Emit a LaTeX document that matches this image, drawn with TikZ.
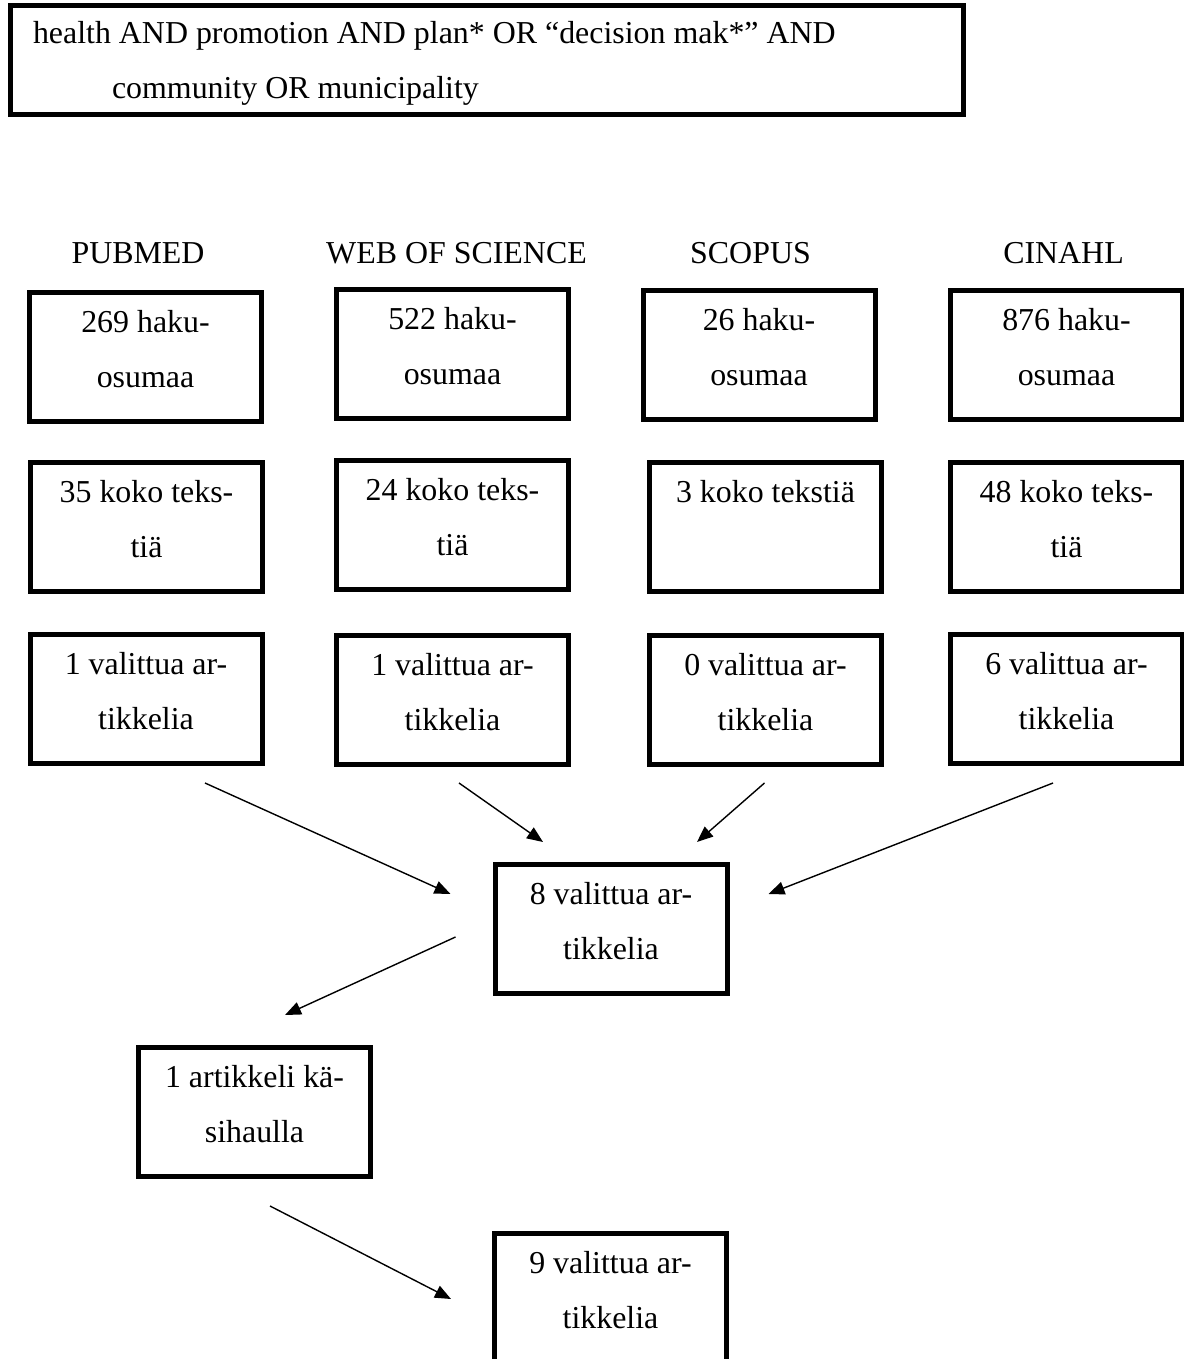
\documentclass[tikz,border=0pt]{standalone}
\usepackage{fontspec}
\setmainfont{Liberation Serif}
\usetikzlibrary{arrows.meta}

\newcommand{\boxtext}[1]{\parbox[c][93pt][t]{225pt}{\centering #1}}

\tikzset{
  countbox/.style={draw, line width=5pt, inner sep=0pt,
    minimum width=232pt, minimum height=129pt},
  dbname/.style={inner sep=0pt},
  flow/.style={-{Triangle[length=16pt,width=13pt]}, line width=1.4pt}
}

\begin{document}
\begin{tikzpicture}
    [x=1pt, y=-1pt, font=\fontsize{31.9}{55}\selectfont]
    \useasboundingbox (0,0) rectangle (1183,1359);
    % search string
    \node (query) at (487,60) [draw, line width=5pt, inner sep=0pt,
      minimum width=953pt, minimum height=109pt]
      {\parbox[c][77pt][t]{908pt}{\raggedright health AND promotion AND plan* OR “decision mak*” AND\\
       \hspace*{79pt}community OR municipality}};
    % databases
    \node (pubname) at (138,253) [dbname] {PUBMED};
    \node (wosname) at (456.5,253) [dbname] {WEB OF SCIENCE};
    \node (sconame) at (750.5,253) [dbname] {SCOPUS};
    \node (cinname) at (1063.5,253) [dbname] {CINAHL};
    % hits
    \node (pub1) at (145.5,357) [countbox] {\boxtext{269 haku-\\osumaa}};
    \node (wos1) at (452.5,353.5) [countbox] {\boxtext{522 haku-\\osumaa}};
    \node (sco1) at (759,355) [countbox] {\boxtext{26 haku-\\osumaa}};
    \node (cin1) at (1066.5,355) [countbox] {\boxtext{876 haku-\\osumaa}};
    % full texts
    \node (pub2) at (146.5,526.5) [countbox] {\boxtext{35 koko teks-\\tiä}};
    \node (wos2) at (452.5,524.5) [countbox] {\boxtext{24 koko teks-\\tiä}};
    \node (sco2) at (765.5,526.5) [countbox] {\boxtext{3 koko tekstiä}};
    \node (cin2) at (1066.5,526.5) [countbox] {\boxtext{48 koko teks-\\tiä}};
    % chosen
    \node (pub3) at (146,699) [countbox] {\boxtext{1 valittua ar-\\tikkelia}};
    \node (wos3) at (452.5,700) [countbox] {\boxtext{1 valittua ar-\\tikkelia}};
    \node (sco3) at (765.5,700) [countbox] {\boxtext{0 valittua ar-\\tikkelia}};
    \node (cin3) at (1066.5,699) [countbox] {\boxtext{6 valittua ar-\\tikkelia}};
    \node (sel8) at (611,929) [countbox] {\boxtext{8 valittua ar-\\tikkelia}};
    \node (hand) at (254.5,1112) [countbox] {\boxtext{1 artikkeli kä-\\sihaulla}};
    \node (sel9) at (610.5,1298) [countbox] {\boxtext{9 valittua ar-\\tikkelia}};
    % arrows
    \draw [flow] ([shift={(59,17)}]pub3.south) -- ([shift={(-42,-35)}]sel8.west);
    \draw [flow] ([shift={(6.5,16)}]wos3.south) -- ([shift={(-68,-20)}]sel8.north);
    \draw [flow] ([shift={(-1,16)}]sco3.south) -- ([shift={(86,-20)}]sel8.north);
    \draw [flow] ([shift={(-13.5,17)}]cin3.south) -- ([shift={(39,-35)}]sel8.east);
    \draw [flow] ([shift={(-37,8)}]sel8.west) -- ([shift={(30.5,-30)}]hand.north);
    \draw [flow] ([shift={(15.5,27)}]hand.south) -- ([shift={(-41,1)}]sel9.west);
  \end{tikzpicture}
\end{document}
